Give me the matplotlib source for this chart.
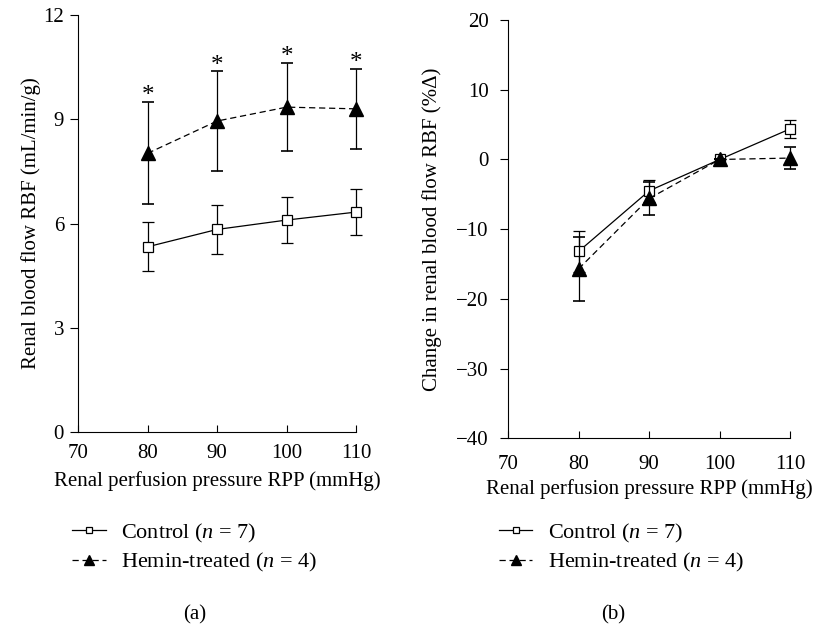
import matplotlib.pyplot as plt

plt.rcParams['font.family'] = 'Liberation Serif'
plt.rcParams['mathtext.fontset'] = 'custom'
plt.rcParams['mathtext.it'] = 'Liberation Serif:italic'
plt.rcParams['mathtext.rm'] = 'Liberation Serif'

rpp = [80, 90, 100, 110]

# panel a: renal blood flow (mL/min/g)
rbf_control = [5.33, 5.83, 6.1, 6.33]
rbf_control_err = [0.7, 0.7, 0.66, 0.67]
rbf_hemin = [8.02, 8.95, 9.35, 9.3]
rbf_hemin_err = [1.47, 1.43, 1.27, 1.15]

# panel b: change in RBF (%)
chg_control = [-13.2, -4.5, 0.0, 4.4]
chg_control_err = [3.0, 1.6, 0.0, 1.3]
chg_hemin = [-15.7, -5.6, 0.0, 0.2]
chg_hemin_err = [4.6, 2.4, 0.0, 1.6]

lab_control = 'Control ($\\mathit{n}$ = 7)'
lab_hemin = 'Hemin-treated ($\\mathit{n}$ = 4)'

fig = plt.figure(figsize=(8.16, 6.27), dpi=100)
ax1 = fig.add_axes([0.0956, 0.311, 0.341, 0.665])
ax2 = fig.add_axes([0.6225, 0.301, 0.346, 0.667])

lw = 0.9
fs = 15


def draw(ax, c, ce, h, he):
    l1 = ax.errorbar(rpp, c, yerr=ce, color='black', lw=lw, marker='s', ms=6.5,
                     mfc='white', mec='black', mew=0.9, capsize=4.5, capthick=1.2,
                     elinewidth=lw, ls='-', zorder=3)
    l2 = ax.errorbar(rpp, h, yerr=he, color='black', lw=lw, marker='^', ms=10,
                     mfc='black', mec='black', capsize=4.5, capthick=1.2,
                     elinewidth=lw, ls=(0, (5, 3)), zorder=4)
    for art in list(l1.get_children()) + list(l2.get_children()):
        art.set_clip_on(False)
    for s in ['top', 'right']:
        ax.spines[s].set_visible(False)
    for s in ['left', 'bottom']:
        ax.spines[s].set_linewidth(0.8)
    ax.set_xlim(70, 110)
    ax.set_xticks([70, 80, 90, 100, 110])
    ax.tick_params(axis='x', direction='in', length=5, width=0.8, labelsize=fs)
    ax.tick_params(axis='y', direction='out', length=6, width=0.8, labelsize=fs, pad=4)
    return l1, l2


h1 = draw(ax1, rbf_control, rbf_control_err, rbf_hemin, rbf_hemin_err)
ax1.set_ylim(0, 12)
ax1.set_yticks([0, 3, 6, 9, 12])
ax1.tick_params(axis='x', pad=8.5)
ax1.set_xlabel('Renal perfusion pressure RPP (mmHg)', fontsize=fs, labelpad=6)
ax1.set_ylabel('Renal blood flow RBF (mL/min/g)', fontsize=fs, labelpad=2)
for x, y, e in zip(rpp, rbf_hemin, rbf_hemin_err):
    ax1.text(x, y + e - 0.15, '*', ha='center', va='bottom', fontsize=18)

h2 = draw(ax2, chg_control, chg_control_err, chg_hemin, chg_hemin_err)
ax2.set_ylim(-40, 20)
ax2.set_yticks([-40, -30, -20, -10, 0, 10, 20])
ax2.set_yticklabels(['\u221240', '\u221230', '\u221220', '\u221210', '0', '10', '20'])
ax2.tick_params(axis='y', pad=8)
ax2.tick_params(axis='x', pad=12)
ax2.set_xlabel('Renal perfusion pressure RPP (mmHg)', fontsize=fs, labelpad=4)
ax2.set_ylabel('Change in renal blood flow RBF (%\u0394)', fontsize=fs, labelpad=10)

for h, xl in [(h1, 0.064), (h2, 0.587)]:
    fig.legend([h[0][0], h[1][0]], [lab_control, lab_hemin], loc='upper left',
               bbox_to_anchor=(xl, 0.2), frameon=False, fontsize=16,
               handlelength=1.5, handletextpad=0.7, labelspacing=0.3,
               markerscale=0.7, numpoints=1)

fig.text(0.239, 0.012, '(a)', ha='center', fontsize=15)
fig.text(0.752, 0.012, '(b)', ha='center', fontsize=15)

fig.savefig('out.png', dpi=100)
